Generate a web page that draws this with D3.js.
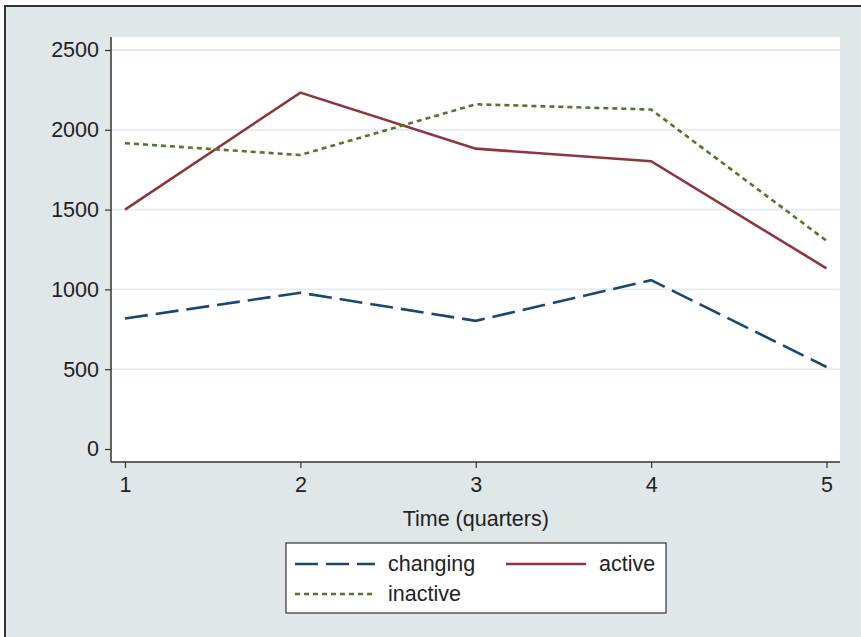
<!DOCTYPE html>
<html>
<head>
<meta charset="utf-8">
<script src="https://cdn.jsdelivr.net/npm/d3@7"></script>
<style>
  html, body { margin: 0; padding: 0; background: #ffffff; }
  svg { display: block; font-family: "Liberation Sans", Arial, sans-serif; }
</style>
</head>
<body>
<svg id="chart" width="861" height="637"></svg>
<script>
// Quarterly counts by group
const quarters = [1, 2, 3, 4, 5];
const changing = [818, 979, 803, 1058, 514];
const active = [1500, 2233, 1882, 1803, 1132];
const inactive = [1916, 1842, 2160, 2127, 1305];
const yTicks = [0, 500, 1000, 1500, 2000, 2500];
const xTitle = "Time (quarters)";

const series = [
  { name: "changing", values: changing, color: "#1a476f", dash: "23,8" },
  { name: "active", values: active, color: "#90353b", dash: null },
  { name: "inactive", values: inactive, color: "#55752f", dash: "5,4" }
];

const W = 861, H = 637;
const plot = { left: 111, right: 840, top: 37, bottom: 462 };
const fontSize = "21.5px";

const svg = d3.select("#chart");

// graph region
svg.append("rect")
  .attr("x", 5).attr("y", 6).attr("width", W + 10).attr("height", H + 10)
  .attr("fill", "#dfe7e9").attr("stroke", "#333333").attr("stroke-width", 2);

// plot region
svg.append("rect")
  .attr("x", plot.left).attr("y", plot.top)
  .attr("width", plot.right - plot.left).attr("height", plot.bottom - plot.top)
  .attr("fill", "#ffffff");

const x = d3.scaleLinear().domain([1, 5]).range([125, 826.5]);
const y = d3.scaleLinear().domain([0, 2500]).range([449, 50]);

// gridlines
svg.append("g").selectAll("line")
  .data(yTicks.filter(d => d > 0))
  .join("line")
  .attr("x1", plot.left).attr("x2", plot.right)
  .attr("y1", d => y(d)).attr("y2", d => y(d))
  .attr("stroke", "#e2ecef").attr("stroke-width", 1.8);

// axes
const yAxis = svg.append("g")
  .attr("transform", `translate(${plot.left},0)`)
  .call(d3.axisLeft(y).tickValues(yTicks).tickSize(6).tickPadding(6).tickFormat(d3.format("d")));
yAxis.select(".domain").attr("d", `M0,${plot.top}V${plot.bottom}`);

const xAxis = svg.append("g")
  .attr("transform", `translate(0,${plot.bottom})`)
  .call(d3.axisBottom(x).tickValues(quarters).tickSize(6).tickPadding(9).tickFormat(d3.format("d")));
xAxis.select(".domain").attr("d", `M${plot.left},0H${plot.right}`);

[yAxis, xAxis].forEach(g => {
  g.select(".domain").attr("stroke", "#333333").attr("stroke-width", 1.5);
  g.selectAll(".tick line").attr("stroke", "#333333").attr("stroke-width", 1.2);
  g.selectAll(".tick text").attr("fill", "#222222").style("font-size", fontSize)
    .style("font-family", "'Liberation Sans', Arial, sans-serif");
});

svg.append("text")
  .attr("x", x(3)).attr("y", 526)
  .attr("text-anchor", "middle")
  .attr("fill", "#222222").style("font-size", fontSize)
  .text(xTitle);

// lines
const line = d3.line().x((d, i) => x(quarters[i])).y(d => y(d));
svg.append("g").selectAll("path")
  .data(series)
  .join("path")
  .attr("d", d => line(d.values))
  .attr("fill", "none")
  .attr("stroke", d => d.color)
  .attr("stroke-width", 2.6)
  .attr("stroke-dasharray", d => d.dash);

// legend
const legend = svg.append("g");
legend.append("rect")
  .attr("x", 286).attr("y", 543).attr("width", 380).attr("height", 70)
  .attr("fill", "#ffffff").attr("stroke", "#333333").attr("stroke-width", 1.2);

const slots = [
  { x: 295, y: 564 },
  { x: 506, y: 564 },
  { x: 295, y: 594 }
];
series.forEach((s, i) => {
  const p = slots[i];
  legend.append("line")
    .attr("x1", p.x).attr("x2", p.x + 80)
    .attr("y1", p.y).attr("y2", p.y)
    .attr("stroke", s.color).attr("stroke-width", 2.6)
    .attr("stroke-dasharray", s.dash);
  legend.append("text")
    .attr("x", p.x + 93).attr("y", p.y + 7)
    .attr("fill", "#222222").style("font-size", fontSize)
    .text(s.name);
});
</script>
</body>
</html>
